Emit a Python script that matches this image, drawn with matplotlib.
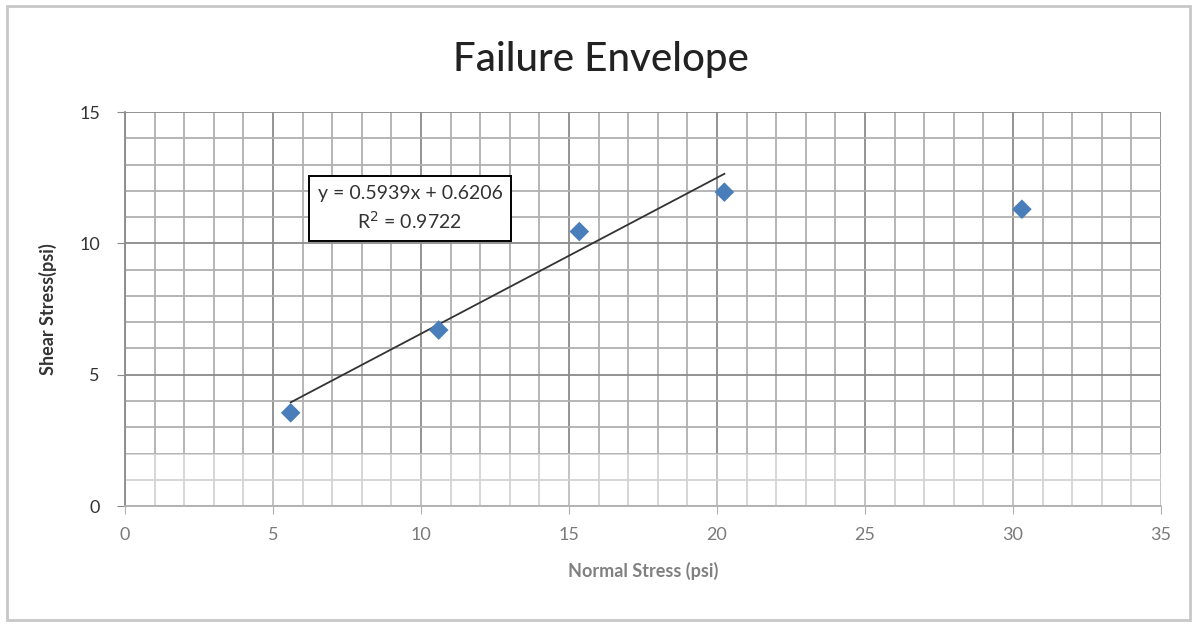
import matplotlib.pyplot as plt
from matplotlib.patches import Rectangle
from matplotlib.ticker import MultipleLocator

plt.rcParams['font.family'] = ['Lato', 'DejaVu Sans']

# measured points
normal_stress = [5.6, 10.6, 15.35, 20.25, 30.3]
shear_stress = [3.55, 6.7, 10.45, 11.95, 11.3]

# linear trendline reported on the chart (fitted to first four points)
slope = 0.5939
intercept = 0.6206
r_squared = 0.9722
fit_range = [5.6, 20.25]

fig = plt.figure(figsize=(12.01, 6.24), dpi=100)
ax = fig.add_axes([0.104, 0.189, 0.8627, 0.6315])

# outer chart border
fig.patches.append(Rectangle((0.006, 0.006), 0.985, 0.984, transform=fig.transFigure,
                             fill=False, edgecolor='#c8c8c8', linewidth=2))

ax.set_xlim(0, 35)
ax.set_ylim(0, 15)
ax.xaxis.set_major_locator(MultipleLocator(5))
ax.xaxis.set_minor_locator(MultipleLocator(1))
ax.yaxis.set_major_locator(MultipleLocator(5))
ax.yaxis.set_minor_locator(MultipleLocator(1))
ax.set_axisbelow(True)
ax.grid(which='major', color='#8a8a8a', linewidth=1.3)
ax.grid(which='minor', color='#b0b0b0', linewidth=1.3)

for side in ['top', 'right']:
    ax.spines[side].set_visible(False)
ax.spines['left'].set_color('#8a8a8a')
ax.spines['bottom'].set_color('#b0b0b0')
ax.spines['left'].set_linewidth(1.3)
ax.spines['bottom'].set_linewidth(1.3)

ax.tick_params(axis='x', which='major', length=6, color='#b0b0b0', labelsize=13,
               labelcolor='#7a7a7a', pad=9)
ax.tick_params(axis='y', which='major', length=6, color='#8a8a8a', labelsize=13,
               labelcolor='#333333', pad=12)
ax.tick_params(which='minor', length=0)

# lighter band at the bottom of the plot, as in the source image
ax.axhspan(0, 2, color='white', alpha=0.45, zorder=1.5, linewidth=0)

ax.scatter(normal_stress, shear_stress, marker='D', s=100, color='#4a7ebb',
           edgecolors='none', zorder=3)
ax.plot(fit_range, [slope * x + intercept for x in fit_range], color='#333333',
        linewidth=1.3, zorder=2.5)

ax.text(9.63, 11.33, 'y = %.4fx + %.4f\nR$^2$ = %.4f' % (slope, intercept, r_squared),
        ha='center', va='center', fontsize=14, color='#333333', linespacing=1.45,
        bbox=dict(boxstyle='square,pad=0.45', facecolor='white', edgecolor='black',
                  linewidth=1.4), zorder=4)

fig.text(0.5, 0.905, 'Failure Envelope', ha='center', va='center', fontsize=29,
         fontweight='medium', color='#222222')
ax.set_ylabel('Shear Stress(psi)', fontsize=13, fontweight='bold', color='#333333',
              labelpad=16)
ax.set_xlabel('Normal Stress (psi)', fontsize=13, fontweight='bold', color='#808080',
              labelpad=14)

fig.savefig('out.png', dpi=100)
